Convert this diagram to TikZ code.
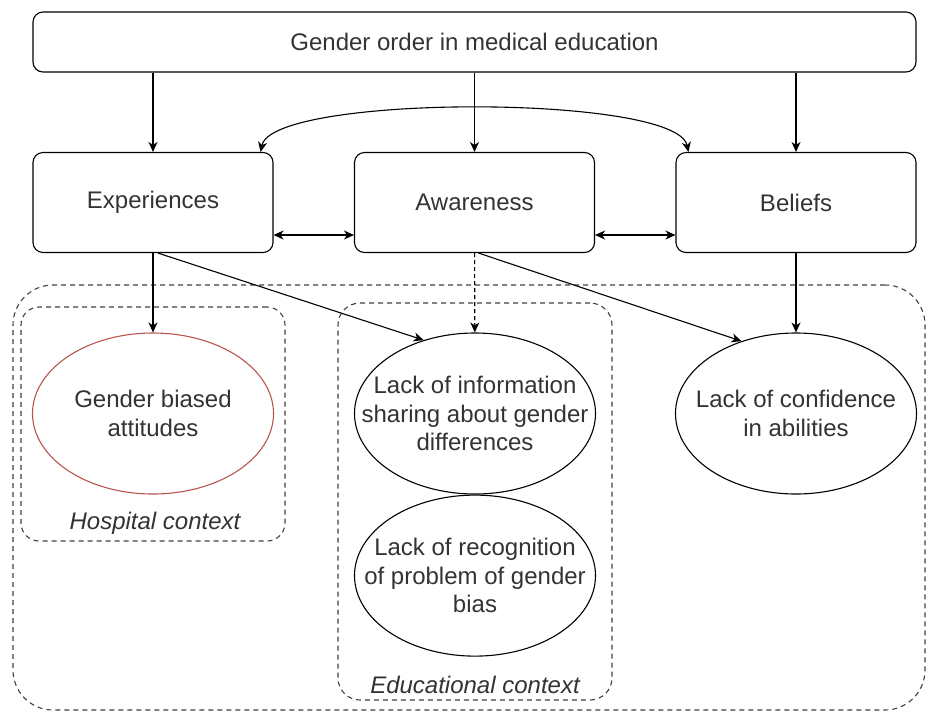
\documentclass[tikz,border=0pt]{standalone}
\usepackage{fontspec}
\setmainfont{Liberation Sans}
\usepackage{tikz}
\usetikzlibrary{shapes.geometric, arrows.meta, positioning}

\definecolor{txtgray}{HTML}{333333}
\definecolor{biasred}{HTML}{B85450}

\begin{document}
\begin{tikzpicture}[
    x=1pt, y=-1pt,
    font=\fontsize{24}{28.5}\selectfont, text=txtgray,
    box/.style={rectangle, rounded corners=10pt, draw=black, line width=1.1pt,
                minimum width=240pt, minimum height=100pt,
                align=center, inner sep=0pt},
    oval/.style={ellipse, draw=black, line width=1.1pt,
                 minimum width=241pt, minimum height=161pt,
                 align=center, inner xsep=-40pt, inner ysep=0pt},
    ctx/.style={rectangle, draw=black!75, line width=1.1pt,
                dash pattern=on 5pt off 4pt, inner sep=0pt},
    ctxlabel/.style={font=\fontsize{24}{28.5}\selectfont\itshape},
    arr/.style={-{Stealth[length=10pt, width=9pt, inset=3pt]}, line width=1.1pt, draw=black},
    dblarr/.style={{Stealth[length=10pt, width=9pt, inset=3pt]}-{Stealth[length=10pt, width=9pt, inset=3pt]}, line width=1.1pt, draw=black}
]
\useasboundingbox (0,0) rectangle (928,713);

% dashed context frames
\node[ctx, rounded corners=40pt, minimum width=912pt, minimum height=425pt] (all) at (469,497.5) {};
\node[ctx, rounded corners=18pt, minimum width=264pt, minimum height=234pt] (hospital) at (153,424) {};
\node[ctx, rounded corners=22pt, minimum width=274pt, minimum height=397pt] (educ) at (475,501.5) {};
\node[ctxlabel] (hosplabel) at (155,523) {Hospital context};
\node[ctxlabel] (educlabel) at (475,685) {Educational context};

% boxes
\node[box, minimum width=883pt, minimum height=60pt] (order) at (474.5,42) {Gender order in medical education};
\node[box] (exp)     at (153,202.5)   {Experiences};
\node[box] (aware)   at (474.5,202.5) {Awareness};
\node[box] (beliefs) at (796,202.5)   {Beliefs};

% outcomes
\node[oval, draw=biasred] (bias) at (153,413.5) {Gender biased\\attitudes};
\node[oval] (info)  at (475,413.5) {Lack of information\\sharing about gender\\differences};
\node[oval, below=0pt of info] (recog) {Lack of recognition\\of problem of gender\\bias};
\node[oval] (conf)  at (796,413.5) {Lack of confidence\\in abilities};

\draw[arr] (order.south -| exp)     -- (exp);
\draw[arr] (order.south -| aware)   -- (aware);
\draw[arr] (order.south -| beliefs) -- (beliefs);

\draw[dblarr] ([xshift=-13pt]exp.north east) .. controls +(12,-58) and +(-12,-58) .. ([xshift=13pt]beliefs.north west);
\draw[dblarr] ([yshift=-32.5pt]exp.east)   -- ([yshift=-32.5pt]aware.west);
\draw[dblarr] ([yshift=-32.5pt]aware.east) -- ([yshift=-32.5pt]beliefs.west);

\draw[arr] (exp) -- (bias);
\draw[arr] ([xshift=5pt]exp.south) -- (info.125);
\draw[arr, dash pattern=on 4pt off 3pt] (aware) -- (info);
\draw[arr] ([xshift=4pt]aware.south) -- (conf.127);
\draw[arr] (beliefs) -- (conf);
\end{tikzpicture}
\end{document}
